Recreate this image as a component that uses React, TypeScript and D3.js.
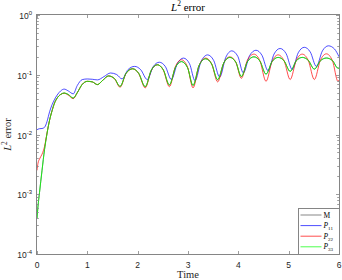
import React, { useEffect, useRef } from 'react'
import { select, scaleLinear, scaleLog, line, curveMonotoneX } from 'd3'

// sample times shared by M, P22 and P33
const timeSteps = [
  0, 0.02, 0.05, 0.1, 0.15, 0.2, 0.25, 0.3, 0.35, 0.4, 0.47, 0.54, 0.62, 0.72, 0.8, 0.9,
  1.0, 1.1, 1.2, 1.31, 1.42, 1.54, 1.65, 1.77, 1.9, 2.02, 2.15, 2.27, 2.39, 2.51, 2.63,
  2.75, 2.87, 2.99, 3.1, 3.22, 3.35, 3.47, 3.59, 3.71, 3.83, 3.95, 4.06, 4.18, 4.31,
  4.43, 4.55, 4.67, 4.79, 4.91, 5.03, 5.15, 5.27, 5.39, 5.51, 5.63, 5.75, 5.87, 5.98, 6.0
]

// P11 oscillates a little later than the others
const timeP11 = [
  0, 0.02, 0.05, 0.1, 0.15, 0.2, 0.25, 0.3, 0.35, 0.4, 0.47, 0.54, 0.62, 0.72, 0.8, 0.9,
  1.0, 1.1, 1.2, 1.33, 1.46, 1.58, 1.69, 1.81, 1.94, 2.06, 2.19, 2.31, 2.43, 2.55, 2.67,
  2.79, 2.91, 3.03, 3.14, 3.26, 3.39, 3.51, 3.63, 3.75, 3.87, 3.99, 4.1, 4.22, 4.35,
  4.47, 4.59, 4.71, 4.83, 4.95, 5.07, 5.19, 5.31, 5.43, 5.55, 5.67, 5.79, 5.91, 6.0
]

const errP11 = [
  0.0120, 0.0123, 0.0125, 0.0126, 0.0132, 0.0166, 0.0240, 0.0316, 0.0389, 0.0457,
  0.0537, 0.0575, 0.0537, 0.0479, 0.066, 0.083, 0.085, 0.084, 0.082, 0.093,
  0.107, 0.1012, 0.0851, 0.1223, 0.138, 0.1216, 0.0832, 0.1372, 0.162, 0.1372,
  0.0832, 0.1549, 0.190, 0.1531, 0.0794, 0.1679, 0.215, 0.1738, 0.0912, 0.195,
  0.251, 0.203, 0.107, 0.2065, 0.257, 0.2113, 0.117, 0.2226, 0.275, 0.2252,
  0.123, 0.2332, 0.288, 0.2399, 0.138, 0.2506, 0.305, 0.27, 0.2
]

const errP22 = [
  0.00251, 0.00331, 0.00389, 0.00468, 0.00631, 0.0107, 0.0174, 0.0251, 0.0339, 0.0407,
  0.0468, 0.049, 0.0457, 0.0398, 0.0501, 0.0692, 0.0776, 0.0759, 0.0684, 0.0813,
  0.0955, 0.0856, 0.0617, 0.1053, 0.126, 0.1047, 0.0603, 0.1175, 0.147, 0.1189,
  0.0631, 0.1372, 0.178, 0.1357, 0.0603, 0.1429, 0.1905, 0.1514, 0.0759, 0.1567,
  0.1995, 0.1622, 0.0871, 0.1754, 0.2213, 0.1702, 0.0776, 0.1667, 0.2153, 0.1698,
  0.0832, 0.1734, 0.2213, 0.1734, 0.0832, 0.1748, 0.2239, 0.1718, 0.0776, 0.0813
]

const errP33 = [
  0.000398, 0.000631, 0.00107, 0.00251, 0.00562, 0.0105, 0.0174, 0.0251, 0.0339, 0.0407,
  0.0468, 0.0495, 0.0468, 0.0407, 0.0501, 0.0692, 0.0776, 0.0759, 0.0684, 0.0813,
  0.0955, 0.0863, 0.0638, 0.1062, 0.126, 0.1059, 0.0631, 0.1189, 0.147, 0.1211,
  0.0676, 0.1327, 0.166, 0.1318, 0.0661, 0.1429, 0.1849, 0.1514, 0.0826, 0.1574,
  0.195, 0.1622, 0.0933, 0.165, 0.1995, 0.1688, 0.1023, 0.166, 0.195, 0.1704,
  0.1138, 0.1704, 0.195, 0.1742, 0.1242, 0.1712, 0.1905, 0.1727, 0.1288, 0.1288
]

// M lies under P33 almost everywhere
const errM = [
  0.000398, 0.000631, 0.00107, 0.00251, 0.00562, 0.0105, 0.0174, 0.0251, 0.0339, 0.0407,
  0.0468, 0.0495, 0.0468, 0.0407, 0.0501, 0.0692, 0.0776, 0.0759, 0.0684, 0.0813,
  0.0955, 0.0863, 0.0638, 0.1062, 0.126, 0.1059, 0.0631, 0.1189, 0.147, 0.1211,
  0.0676, 0.1327, 0.166, 0.1318, 0.0661, 0.1429, 0.1849, 0.1514, 0.0826, 0.1574,
  0.195, 0.1622, 0.0933, 0.165, 0.1995, 0.1688, 0.1023, 0.166, 0.195, 0.1704,
  0.1138, 0.1704, 0.195, 0.1742, 0.1242, 0.1712, 0.1905, 0.1727, 0.1288, 0.1288
]

const xTicks = [0, 1, 2, 3, 4, 5, 6]
const yExponents = [-4, -3, -2, -1, 0]
const legendNames = ['M', 'P', 'P', 'P']
const legendSubs = ['', '11', '22', '33']

const W = 342
const H = 280
const margin = { top: 15, right: 3, bottom: 26, left: 37 }
const frameColor = '#858585'
const textColor = '#262626'
const sans = '"Liberation Sans", Arial, sans-serif'
const serif = '"Liberation Serif", "Times New Roman", serif'

const App = () => {
  const svgRef = useRef<SVGSVGElement>(null)

  useEffect(() => {
    const svg = select(svgRef.current)
    svg.selectAll('*').remove()

    const x = scaleLinear().domain([0, 6]).range([margin.left, W - margin.right])
    const y = scaleLog().domain([1e-4, 1]).range([H - margin.bottom, margin.top])
    const x0 = margin.left, x1 = W - margin.right
    const y0 = H - margin.bottom, y1 = margin.top

    // M drawn first so the others sit on top
    const series = [
      { times: timeSteps, values: errM, color: '#000000', width: 0.5 },
      { times: timeP11, values: errP11, color: '#0000ff', width: 0.7 },
      { times: timeSteps, values: errP22, color: '#ff0000', width: 0.7 },
      { times: timeSteps, values: errP33, color: '#00ff00', width: 0.8 }
    ]

    svg.selectAll('.line')
      .data(series)
      .join('path')
      .attr('class', 'line')
      .attr('d', s => line<number>()
        .x((d, i) => x(s.times[i]))
        .y(d => y(d))
        .curve(curveMonotoneX)(s.values))
      .attr('fill', 'none')
      .attr('stroke', s => s.color)
      .attr('stroke-width', s => s.width)

    // ticks, inside on all four sides
    const ticks = svg.append('g').attr('stroke', frameColor).attr('stroke-width', 0.8)
    xTicks.forEach(t => {
      const px = Math.round(x(t)) + 0.5
      ticks.append('line').attr('x1', px).attr('x2', px).attr('y1', y0).attr('y2', y0 - 3)
      ticks.append('line').attr('x1', px).attr('x2', px).attr('y1', y1).attr('y2', y1 + 3)
    })
    yExponents.forEach(e => {
      const py = Math.round(y(Math.pow(10, e))) + 0.5
      ticks.append('line').attr('x1', x0).attr('x2', x0 + 3).attr('y1', py).attr('y2', py)
      ticks.append('line').attr('x1', x1).attr('x2', x1 - 3).attr('y1', py).attr('y2', py)
      if (e < 0) {
        for (let k = 2; k <= 9; k++) {
          const pm = Math.round(y(k * Math.pow(10, e))) + 0.5
          ticks.append('line').attr('x1', x0).attr('x2', x0 + 1.8).attr('y1', pm).attr('y2', pm)
          ticks.append('line').attr('x1', x1).attr('x2', x1 - 1.8).attr('y1', pm).attr('y2', pm)
        }
      }
    })

    // frame
    svg.append('rect')
      .attr('x', x0 - 0.5).attr('y', y1 - 0.5)
      .attr('width', x1 - x0 + 1).attr('height', y0 - y1 + 1)
      .attr('fill', 'none')
      .attr('stroke', frameColor)
      .attr('stroke-width', 1)

    // tick labels
    xTicks.forEach(t => {
      svg.append('text')
        .attr('x', x(t)).attr('y', y0 + 14)
        .attr('text-anchor', 'middle')
        .attr('font-family', sans).attr('font-size', 8.5).attr('fill', textColor)
        .text(t)
    })
    yExponents.forEach(e => {
      const lbl = svg.append('text')
        .attr('x', x0 - 5).attr('y', y(Math.pow(10, e)) + 4)
        .attr('text-anchor', 'end')
        .attr('font-family', sans).attr('font-size', 8.5).attr('fill', textColor)
      lbl.append('tspan').text('10')
      lbl.append('tspan').attr('dy', -4).attr('font-size', 6).text(e)
    })

    // title
    const title = svg.append('text')
      .attr('x', (x0 + x1) / 2).attr('y', 10.5)
      .attr('text-anchor', 'middle')
      .attr('font-family', serif).attr('font-size', 11).attr('fill', '#000')
    title.append('tspan').attr('font-style', 'italic').text('L')
    title.append('tspan').attr('dy', -4.5).attr('font-size', 7.5).text('2')
    title.append('tspan').attr('dy', 4.5).text(' error')

    // x label
    svg.append('text')
      .attr('x', (x0 + x1) / 2).attr('y', 278)
      .attr('text-anchor', 'middle')
      .attr('font-family', serif).attr('font-size', 10.5).attr('fill', textColor)
      .text('Time')

    // y label
    const ylab = svg.append('text')
      .attr('transform', `translate(11,${(y0 + y1) / 2}) rotate(-90)`)
      .attr('text-anchor', 'middle')
      .attr('font-family', serif).attr('font-size', 10.5).attr('fill', textColor)
    ylab.append('tspan').attr('font-style', 'italic').text('L')
    ylab.append('tspan').attr('dy', -4.5).attr('font-size', 7.5).text('2')
    ylab.append('tspan').attr('dy', 4.5).text(' error')

    // legend
    const lg = svg.append('g')
    lg.append('rect')
      .attr('x', 298.5).attr('y', 208.5)
      .attr('width', x1 + 0.5 - 298.5).attr('height', y0 + 0.5 - 208.5)
      .attr('fill', '#fff')
      .attr('stroke', frameColor).attr('stroke-width', 1)
    legendNames.forEach((name, i) => {
      const ly = 215 + i * 10.6
      lg.append('line')
        .attr('x1', 300.5).attr('x2', 321.5).attr('y1', ly).attr('y2', ly)
        .attr('stroke', i === 0 ? '#555' : series[i].color)
        .attr('stroke-width', 0.7)
      const t = lg.append('text')
        .attr('x', 323.5).attr('y', ly + 2.5)
        .attr('font-family', serif).attr('font-size', 7.5).attr('fill', '#000')
      if (legendSubs[i] === '') {
        t.text(name)
      } else {
        t.append('tspan').attr('font-style', 'italic').text(name)
        t.append('tspan').attr('dy', 1.8).attr('font-size', 5).text(legendSubs[i])
      }
    })
  }, [])

  return (
    <svg
      ref={svgRef}
      width={W}
      height={H}
      style={{ position: 'absolute', left: 0, top: 0, background: '#fff' }}
    />
  )
}

export default App
